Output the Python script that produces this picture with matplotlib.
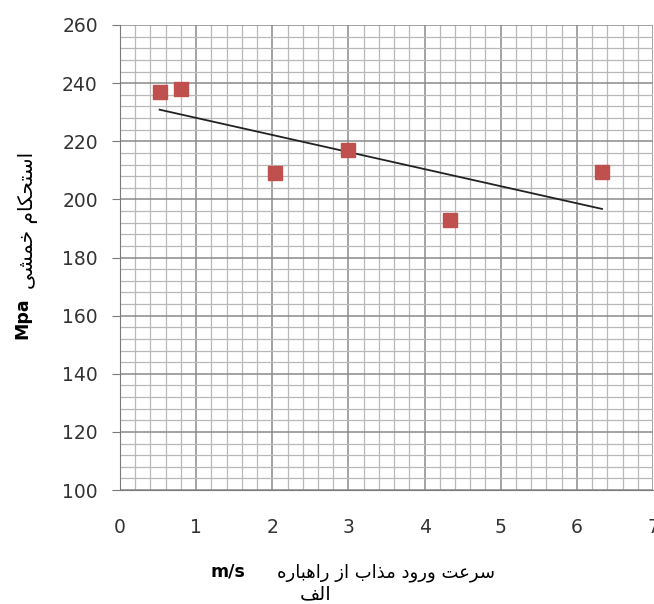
import numpy as np
import matplotlib
matplotlib.use("Agg")
import matplotlib.pyplot as plt
from matplotlib.ticker import MultipleLocator

# data
speed = [0.52, 0.80, 2.03, 3.00, 4.34, 6.33]        # m/s
strength = [237.0, 238.0, 209.0, 217.0, 193.0, 209.5]  # Mpa
x_ticks = [0, 1, 2, 3, 4, 5, 6, 7]
y_ticks = [100, 120, 140, 160, 180, 200, 220, 240, 260]

x_label_fa = "سرعت ورود مذاب از راهباره"
y_label_fa = "استحکام خمشی"
sub_label_fa = "الف"

# simple arabic/persian shaping (matplotlib has no text shaping)
FORMS = {
    "ا": ("\uFE8D", "\uFE8E", None, None),
    "ب": ("\uFE8F", "\uFE90", "\uFE91", "\uFE92"),
    "ت": ("\uFE95", "\uFE96", "\uFE97", "\uFE98"),
    "ح": ("\uFEA1", "\uFEA2", "\uFEA3", "\uFEA4"),
    "خ": ("\uFEA5", "\uFEA6", "\uFEA7", "\uFEA8"),
    "د": ("\uFEA9", "\uFEAA", None, None),
    "ذ": ("\uFEAB", "\uFEAC", None, None),
    "ر": ("\uFEAD", "\uFEAE", None, None),
    "ز": ("\uFEAF", "\uFEB0", None, None),
    "س": ("\uFEB1", "\uFEB2", "\uFEB3", "\uFEB4"),
    "ش": ("\uFEB5", "\uFEB6", "\uFEB7", "\uFEB8"),
    "ع": ("\uFEC9", "\uFECA", "\uFECB", "\uFECC"),
    "ف": ("\uFED1", "\uFED2", "\uFED3", "\uFED4"),
    "ل": ("\uFEDD", "\uFEDE", "\uFEDF", "\uFEE0"),
    "م": ("\uFEE1", "\uFEE2", "\uFEE3", "\uFEE4"),
    "ه": ("\uFEE9", "\uFEEA", "\uFEEB", "\uFEEC"),
    "و": ("\uFEED", "\uFEEE", None, None),
    "ک": ("\uFB8E", "\uFB8F", "\uFB90", "\uFB91"),
    "ی": ("\uFBFC", "\uFBFD", "\uFBFE", "\uFBFF"),
}


def shape(text):
    out = []
    for i, ch in enumerate(text):
        if ch not in FORMS:
            out.append(ch)
            continue
        prev = text[i - 1] if i > 0 else ""
        nxt = text[i + 1] if i + 1 < len(text) else ""
        iso, fin, ini, med = FORMS[ch]
        join_prev = prev in FORMS and FORMS[prev][2] is not None
        join_next = nxt in FORMS and ini is not None
        if join_prev and join_next:
            out.append(med)
        elif join_prev:
            out.append(fin)
        elif join_next:
            out.append(ini)
        else:
            out.append(iso)
    return "".join(reversed(out))


plt.rcParams["font.family"] = ["DejaVu Sans"]

fig = plt.figure(figsize=(6.54, 6.04), dpi=100)
ax = fig.add_axes([120 / 654, 1 - 490 / 604, 533 / 654, 465 / 604])

ax.set_xlim(0, 7)
ax.set_ylim(100, 260)
ax.set_xticks(x_ticks)
ax.set_yticks(y_ticks)
ax.xaxis.set_minor_locator(MultipleLocator(0.2))
ax.yaxis.set_minor_locator(MultipleLocator(4))
ax.grid(which="major", color="#8a8a8a", linewidth=1.1)
ax.grid(which="minor", color="#b8b8b8", linewidth=0.9)
ax.set_axisbelow(True)

for s in ["top", "right"]:
    ax.spines[s].set_visible(False)
ax.spines["left"].set_color("#7a7a7a")
ax.spines["bottom"].set_color("#7a7a7a")

ax.tick_params(axis="y", which="major", length=6, color="#7a7a7a", pad=10,
               labelsize=13.5, labelcolor="#333333")
ax.tick_params(axis="x", which="major", length=0, pad=20,
               labelsize=13.5, labelcolor="#333333")
ax.tick_params(which="minor", length=0)

# trend line (least squares fit of the points)
k, b = np.polyfit(speed, strength, 1)
xs = np.array([min(speed), max(speed)])
ax.plot(xs, k * xs + b, color="#222222", linewidth=1.3, zorder=3)

ax.plot(speed, strength, linestyle="none", marker="s", markersize=10,
        color="#c0504d", markeredgecolor="#c0504d", zorder=4)

# axis titles
fig.text(386 / 654, 1 - 573 / 604, shape(x_label_fa), fontsize=13,
         ha="center", va="center", color="black")
fig.text(228 / 654, 1 - 572 / 604, "m/s", fontsize=12.5, fontweight="bold",
         ha="center", va="center", color="black")
fig.text(316 / 654, 1 - 594 / 604, shape(sub_label_fa), fontsize=14,
         ha="center", va="center", color="black")
fig.text(28 / 654, 1 - 220 / 604, shape(y_label_fa), fontsize=14.5,
         rotation=90, ha="center", va="center", color="black")
fig.text(22 / 654, 1 - 318 / 604, "Mpa", fontsize=12.5, fontweight="bold",
         rotation=90, ha="center", va="center", color="black")

fig.savefig("out.png", dpi=100)
